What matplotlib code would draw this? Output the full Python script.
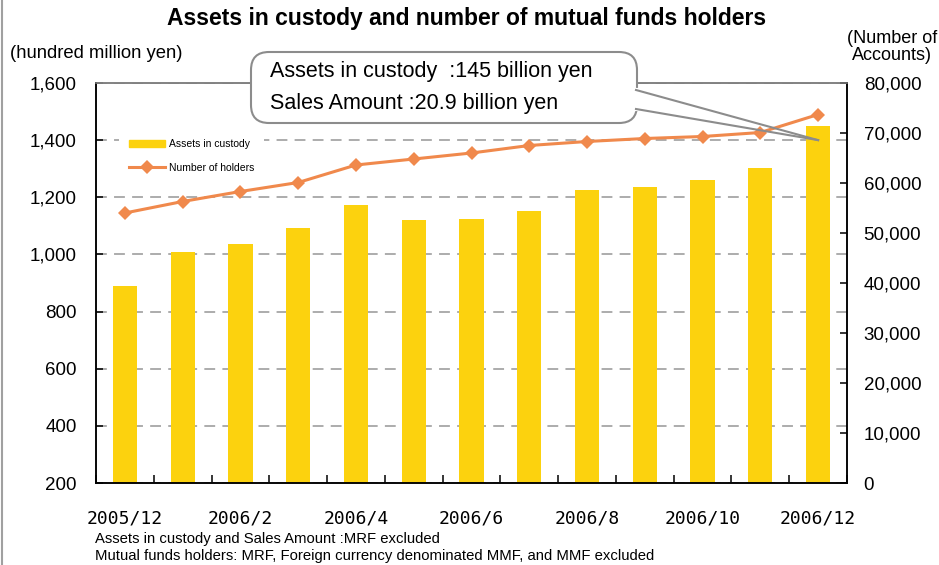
import numpy as np
import matplotlib
matplotlib.use("Agg")
import matplotlib.pyplot as plt
from matplotlib.patches import FancyBboxPatch, Patch
from matplotlib.lines import Line2D
from matplotlib.transforms import IdentityTransform
from matplotlib.ticker import FuncFormatter

# monthly data, 2005/12 - 2006/12
months = ["2005/12", "2006/1", "2006/2", "2006/3", "2006/4", "2006/5", "2006/6",
          "2006/7", "2006/8", "2006/9", "2006/10", "2006/11", "2006/12"]
assets = [890, 1008, 1036, 1092, 1173, 1120, 1124, 1153, 1227, 1237, 1262, 1304, 1450]
holders = [54000, 56300, 58300, 60100, 63600, 64800, 66000, 67500, 68300, 68900,
           69300, 70100, 73700]
shown_months = months[::2]

callout_lines = ["Assets in custody  :145 billion yen", "Sales Amount :20.9 billion yen"]
notes = ["Assets in custody and Sales Amount :MRF excluded",
         "Mutual funds holders: MRF, Foreign currency denominated MMF, and MMF excluded"]

BAR = "#FCD20E"
LINE = "#F0894C"
GRID = "#A6A6A6"
BOX = "#8C8C8C"

plt.rcParams["font.family"] = ["Liberation Sans", "DejaVu Sans"]

W, H = 939, 565
fig = plt.figure(figsize=(W / 100, H / 100), dpi=100)
ax = fig.add_axes([96 / W, 1 - 483 / H, (847 - 96) / W, 400 / H])
ax2 = ax.twinx()

x = np.arange(len(months))
ax.bar(x, assets, width=0.42, color=BAR, zorder=2)
ax2.plot(x, holders, color=LINE, lw=2.2, marker="D", ms=7, mew=0, zorder=3)

ax.set_xlim(-0.5, len(months) - 0.5)
ax.set_ylim(200, 1600)
ax.set_yticks(np.arange(200, 1601, 200))
ax.yaxis.set_major_formatter(FuncFormatter(lambda v, p: f"{int(v):,}"))
ax2.set_ylim(0, 80000)
ax2.set_yticks(np.arange(0, 80001, 10000))
ax2.yaxis.set_major_formatter(FuncFormatter(lambda v, p: f"{int(v):,}"))

ax.set_xticks(x[::2])
ax.set_xticklabels(shown_months, family="DejaVu Sans Mono", fontsize=13)
ax.set_xticks(np.arange(-0.5, len(months)), minor=True)
ax.tick_params(axis="x", which="major", length=0, pad=19)
ax.tick_params(axis="x", which="minor", direction="in", length=6, width=1.1)
ax.tick_params(axis="y", direction="in", length=5, width=1.1, labelsize=13.5, pad=14)
ax2.tick_params(axis="y", direction="in", length=5, width=1.1, labelsize=13.5, pad=12)

ax.set_axisbelow(True)
ax.grid(axis="y", color=GRID, lw=1.3, linestyle=(0, (6, 4)))

for a in (ax, ax2):
    for side in ("left", "right", "bottom"):
        a.spines[side].set_linewidth(1.1)
        a.spines[side].set_color("black")
    a.spines["top"].set_linewidth(1.1)
    a.spines["top"].set_color("#7F7F7F")

handles = [Patch(color=BAR, label="Assets in custody"),
           Line2D([], [], color=LINE, lw=2.2, marker="D", ms=7, mew=0, label="Number of holders")]
ax2.legend(handles=handles, loc="upper left", bbox_to_anchor=(0.03, 0.885),
           fontsize=7.5, frameon=True, facecolor="white", edgecolor="none", framealpha=1,
           fancybox=False, borderpad=1.0, handlelength=3.5, handletextpad=0.3,
           labelspacing=1.3, numpoints=1, borderaxespad=0)

fig.text(467 / W, 1 - 19 / H, "Assets in custody and number of mutual funds holders",
         ha="center", va="center", fontsize=16.5, fontweight="bold")
fig.text(10 / W, 1 - 53 / H, "(hundred million yen)", ha="left", va="center", fontsize=13.3)
fig.text(937 / W, 1 - 47 / H, "(Number of\nAccounts)", ha="right", va="center",
         fontsize=13, linespacing=1.05, multialignment="center")
fig.text(95 / W, 1 - 539 / H, notes[0], ha="left", va="center", fontsize=10.7)
fig.text(95 / W, 1 - 556 / H, notes[1], ha="left", va="center", fontsize=10.7)

# callout box with a wedge pointing at the last bar
ident = IdentityTransform()
box = FancyBboxPatch((251, H - 123), 637 - 251, 123 - 52,
                     boxstyle="round,pad=0,rounding_size=18",
                     facecolor="white", edgecolor=BOX, lw=1.5, transform=ident, zorder=5)
fig.add_artist(box)
fig.add_artist(Line2D([637, 637], [H - 90, H - 109], color="white", lw=3,
                      transform=ident, zorder=6))
tip = ax.transData.transform((len(months) - 1, 1400))
for y0 in (90, 109):
    fig.add_artist(Line2D([636, tip[0]], [H - y0, tip[1]], color=BOX, lw=1.5,
                          transform=ident, zorder=7))
fig.text(270 / W, 1 - 72 / H, callout_lines[0], ha="left", va="center", fontsize=15.5, zorder=8)
fig.text(270 / W, 1 - 104 / H, callout_lines[1], ha="left", va="center", fontsize=15.5, zorder=8)

# thin frame line on the left edge
fig.add_artist(Line2D([1.5, 1.5], [0, H], color="#A0A0A0", lw=1.5, transform=ident))

fig.savefig("out.png", dpi=100)
